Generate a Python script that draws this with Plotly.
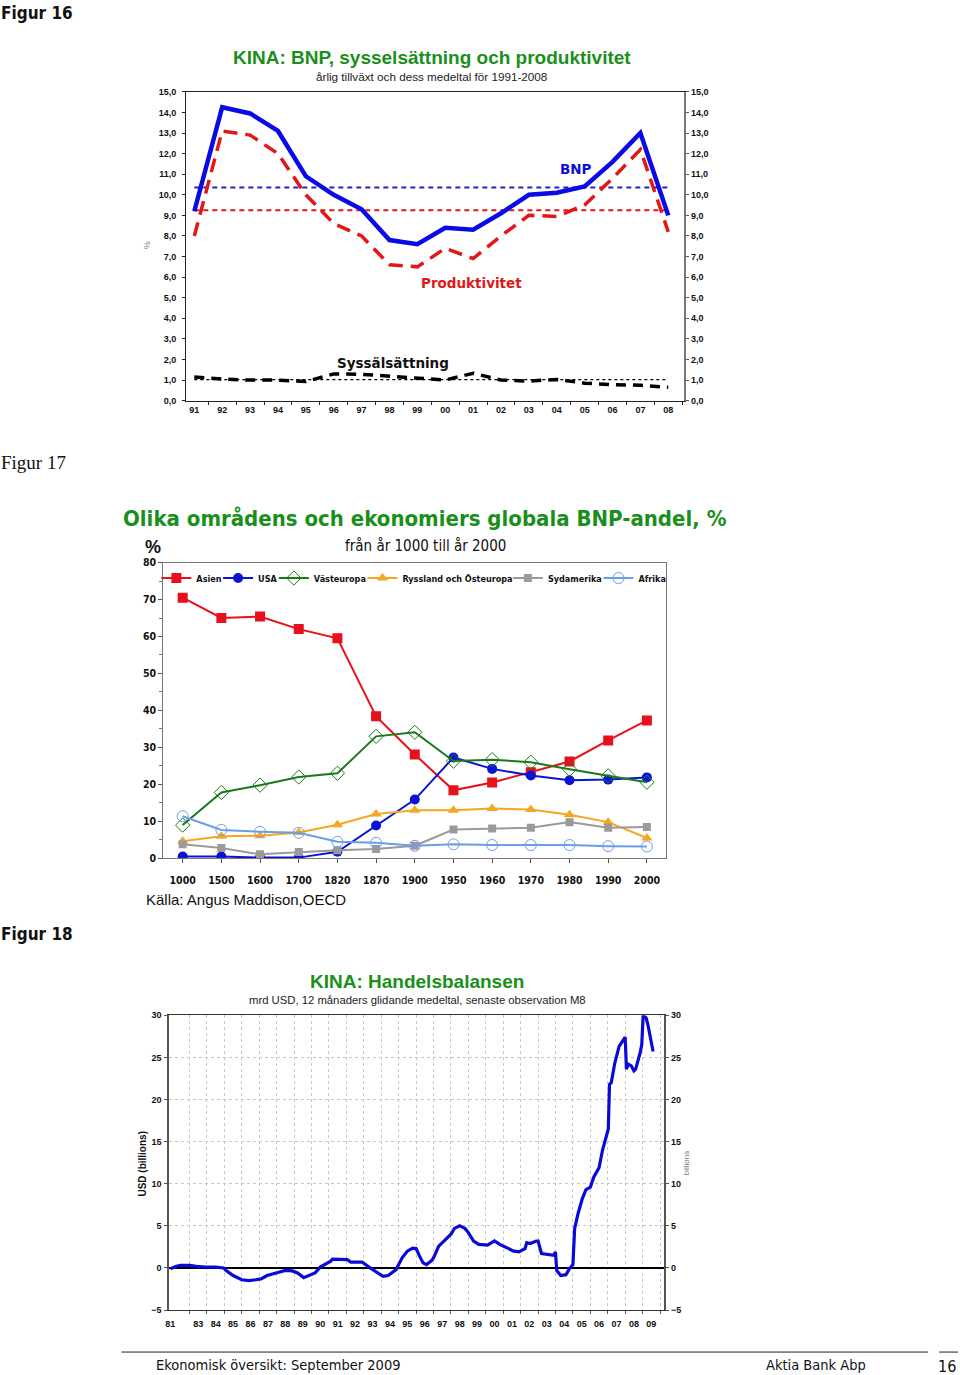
import plotly.graph_objects as go

W, H = 960, 1375

# The photographed page comes out slightly squeezed vertically; pre-correct positions.
Y_SCALE = 0.9919
Y_OFF = 5.1


def px(x):
    return x / W


def py(y):
    return 1 - ((y - Y_OFF) / Y_SCALE) / H


SANS = "Liberation Sans, Arial, sans-serif"
NARROW = "DejaVu Sans Condensed, Liberation Sans Narrow, Arial Narrow, sans-serif"
WIDE = "DejaVu Sans, Verdana, sans-serif"
SERIF = "Liberation Serif, DejaVu Serif, serif"
GREEN = "#1b8f1b"

# ---------------- Chart 1 data ----------------
years1 = ["91", "92", "93", "94", "95", "96", "97", "98", "99", "00",
          "01", "02", "03", "04", "05", "06", "07", "08"]
bnp = [9.2, 14.25, 13.95, 13.1, 10.9, 10.0, 9.3, 7.8, 7.6, 8.4,
       8.3, 9.1, 10.0, 10.1, 10.4, 11.6, 13.0, 9.0]
prod = [8.0, 13.1, 12.9, 12.0, 10.0, 8.6, 8.0, 6.6, 6.5, 7.4,
        6.9, 8.0, 9.0, 8.95, 9.5, 10.8, 12.2, 8.2]
syss = [1.15, 1.05, 1.0, 1.0, 0.93, 1.3, 1.28, 1.2, 1.08, 1.0,
        1.33, 1.0, 0.95, 1.03, 0.85, 0.77, 0.75, 0.65]
bnp_mean = 10.35
prod_mean = 9.25
syss_mean = 1.02

# ---------------- Chart 2 data ----------------
periods2 = ["1000", "1500", "1600", "1700", "1820", "1870", "1900",
            "1950", "1960", "1970", "1980", "1990", "2000"]
asien = [70.5, 65.0, 65.4, 62.0, 59.5, 38.4, 28.1, 18.4, 20.5, 23.3, 26.2, 31.9, 37.3]
usa = [0.5, 0.5, 0.2, 0.2, 1.8, 8.9, 15.9, 27.3, 24.2, 22.4, 21.1, 21.3, 21.9]
vasteuropa = [9.0, 17.8, 19.8, 22.0, 23.0, 33.0, 34.1, 26.3, 26.7, 26.0, 24.1, 22.3, 20.6]
ryssland = [4.6, 6.0, 6.1, 7.0, 9.1, 12.0, 13.0, 13.0, 13.5, 13.2, 11.8, 9.8, 5.5]
sydamerika = [3.8, 2.8, 1.1, 1.7, 2.2, 2.5, 3.4, 7.8, 8.1, 8.3, 9.8, 8.3, 8.5]
afrika = [11.4, 7.7, 7.2, 6.9, 4.5, 4.2, 3.4, 3.8, 3.6, 3.6, 3.6, 3.3, 3.2]

# ---------------- Chart 3 data ----------------
t3 = [1981.9, 1982.25, 1982.5, 1983.0, 1983.4, 1983.9, 1984.5, 1984.95, 1985.1, 1985.5,
      1986.0, 1986.4, 1986.8, 1987.1, 1987.45, 1988.1, 1988.5, 1988.9, 1989.2, 1989.55,
      1989.85, 1990.2, 1990.5, 1990.8, 1991.1, 1991.2, 1992.05, 1992.25, 1992.9, 1993.3,
      1993.7, 1994.1, 1994.4, 1994.85, 1995.2, 1995.5, 1995.8, 1996.0, 1996.2, 1996.4,
      1996.6, 1996.9, 1997.0, 1997.3, 1997.7, 1998.0, 1998.2, 1998.5, 1998.8, 1999.0,
      1999.3, 1999.6, 2000.1, 2000.5, 2000.8, 2001.6, 2001.9, 2002.25, 2002.35, 2002.55,
      2002.9, 2003.0, 2003.2, 2003.7, 2003.9, 2004.0, 2004.07, 2004.3, 2004.6, 2004.8,
      2005.0, 2005.1, 2005.3, 2005.55, 2005.75, 2006.0, 2006.06, 2006.2, 2006.5, 2006.7,
      2006.9, 2007.03, 2007.1, 2007.2, 2007.4, 2007.65, 2008.0, 2008.07, 2008.17, 2008.35,
      2008.5, 2008.6, 2008.85, 2008.95, 2009.03, 2009.2, 2009.3, 2009.45, 2009.6]
v3 = [-0.1, 0.2, 0.3, 0.3, 0.2, 0.1, 0.1, 0.0, -0.3, -0.9,
      -1.4, -1.5, -1.4, -1.3, -0.9, -0.5, -0.3, -0.35, -0.6, -1.15,
      -0.9, -0.6, 0.1, 0.4, 0.8, 1.05, 1.0, 0.7, 0.7, 0.1,
      -0.4, -1.0, -0.9, -0.2, 1.2, 2.0, 2.35, 2.3, 1.4, 0.6,
      0.4, 0.9, 1.2, 2.6, 3.4, 4.0, 4.7, 5.0, 4.7, 4.2,
      3.2, 2.8, 2.7, 3.2, 2.8, 2.0, 1.9, 2.3, 3.0, 2.9,
      3.2, 3.2, 1.7, 1.6, 1.5, 1.9, -0.3, -0.9, -0.8, -0.1,
      0.4, 4.7, 6.5, 8.3, 9.3, 9.6, 9.9, 10.8, 11.9, 14.0,
      15.5, 16.5, 21.8, 22.0, 24.3, 26.3, 27.4, 23.6, 24.2, 24.0,
      23.4, 23.6, 25.5, 26.5, 30.0, 29.7, 28.9, 27.5, 25.7]
labels3 = ["81", "83", "84", "85", "86", "87", "88", "89", "90", "91", "92", "93", "94",
           "95", "96", "97", "98", "99", "00", "01", "02", "03", "04", "05", "06", "07",
           "08", "09"]
tickpos3 = [1981.9] + [y + 0.5 for y in range(1983, 2010)]

fig = go.Figure()

# ---------- Chart 1 traces ----------
fig.add_trace(go.Scatter(x=years1, y=bnp, mode="lines", opacity=0,
                         xaxis="x", yaxis="y2", showlegend=False, hoverinfo="skip"))
fig.add_trace(go.Scatter(x=[years1[0], years1[-1]], y=[bnp_mean, bnp_mean], mode="lines",
                         line=dict(color="#2020c8", width=2, dash="5px,4px"),
                         xaxis="x", yaxis="y", showlegend=False, hoverinfo="skip"))
fig.add_trace(go.Scatter(x=[years1[0], years1[-1]], y=[prod_mean, prod_mean], mode="lines",
                         line=dict(color="#e01818", width=2, dash="5px,4px"),
                         xaxis="x", yaxis="y", showlegend=False, hoverinfo="skip"))
fig.add_trace(go.Scatter(x=[years1[0], years1[-1]], y=[syss_mean, syss_mean], mode="lines",
                         line=dict(color="#000000", width=1.2, dash="3px,3px"),
                         xaxis="x", yaxis="y", showlegend=False, hoverinfo="skip"))
fig.add_trace(go.Scatter(x=years1, y=prod, mode="lines",
                         line=dict(color="#e01818", width=3.5, dash="14px,8px"),
                         xaxis="x", yaxis="y", showlegend=False, name="Produktivitet"))
fig.add_trace(go.Scatter(x=years1, y=syss, mode="lines",
                         line=dict(color="#000000", width=3.5, dash="10px,7px"),
                         xaxis="x", yaxis="y", showlegend=False, name="Sysselsättning"))
fig.add_trace(go.Scatter(x=years1, y=bnp, mode="lines",
                         line=dict(color="#0a0ae6", width=4.5),
                         xaxis="x", yaxis="y", showlegend=False, name="BNP"))

# ---------- Chart 2 traces ----------
series2 = [
    ("Asien", asien, "#e8101a", dict(symbol="square", size=10, color="#e8101a")),
    ("USA", usa, "#0a14d2", dict(symbol="circle", size=10, color="#0a14d2")),
    ("Västeuropa", vasteuropa, "#1a7a1a",
     dict(symbol="diamond-open", size=11, color="#1a7a1a", line=dict(width=1))),
    ("Ryssland och Östeuropa", ryssland, "#f5a623",
     dict(symbol="triangle-up", size=10, color="#f5a623")),
    ("Sydamerika", sydamerika, "#9a9a9a", dict(symbol="square", size=8, color="#9a9a9a")),
    ("Afrika", afrika, "#6a9ee8",
     dict(symbol="circle-open", size=11, color="#6a9ee8", line=dict(width=1))),
]
legend_ids = ["legend", "legend2", "legend3", "legend4", "legend5", "legend6"]
legend_marker_px = [176, 238, 294, 383, 529, 620]
for (name, vals, col, mk), lid in zip(series2, legend_ids):
    fig.add_trace(go.Scatter(x=periods2, y=vals, mode="lines+markers", name=name,
                             line=dict(color=col, width=2), marker=mk,
                             xaxis="x2", yaxis="y3", showlegend=True, legend=lid))

# ---------- Chart 3 traces ----------
fig.add_trace(go.Scatter(x=t3, y=v3, mode="lines", line=dict(color="#0a0ad8", width=3.2),
                         xaxis="x3", yaxis="y4", showlegend=False, name="Handelsbalans"))
fig.add_trace(go.Scatter(x=t3, y=v3, mode="lines", opacity=0,
                         xaxis="x3", yaxis="y5", showlegend=False, hoverinfo="skip"))

tick1 = dict(family=SANS, size=9, color="#111", weight="bold")
tick2 = dict(family=NARROW, size=10.5, color="#111", weight="bold")

legends = {}
for lid, mpx in zip(legend_ids, legend_marker_px):
    legends[lid] = dict(x=px(mpx - 23), y=py(563), xanchor="left", yanchor="top",
                        orientation="h", bgcolor="rgba(0,0,0,0)", itemwidth=30,
                        font=dict(family=NARROW, size=9, color="#111", weight="bold"))

fig.update_layout(
    width=W, height=H, margin=dict(l=0, r=0, t=0, b=0),
    paper_bgcolor="white", plot_bgcolor="white",
    separators=", ",
    showlegend=True,
    **legends,
    # chart 1
    xaxis=dict(domain=[px(183), px(683)], anchor="y", type="category",
               categoryorder="array", categoryarray=years1,
               range=[-0.29, 17.57], showgrid=False, zeroline=False,
               showline=True, linecolor="#222", linewidth=1.2, mirror=True,
               ticks="outside", ticklen=3, tickson="boundaries", tickcolor="#222",
               tickfont=tick1),
    yaxis=dict(domain=[py(400), py(91)], anchor="x", range=[0, 15], dtick=1,
               tickformat=".1f", showgrid=False, zeroline=False,
               showline=True, linecolor="#222", linewidth=1.2,
               ticks="outside", ticklen=3, tickcolor="#222", tickfont=tick1,
               ticklabelstandoff=4),
    yaxis2=dict(overlaying="y", anchor="x", side="right", range=[0, 15], dtick=1,
                tickformat=".1f", showgrid=False, zeroline=False,
                showline=True, linecolor="#777", linewidth=2,
                ticks="outside", ticklen=3, tickcolor="#555", tickfont=tick1),
    # chart 2
    xaxis2=dict(domain=[px(160), px(665)], anchor="y3", type="category",
                categoryorder="array", categoryarray=periods2,
                range=[-0.5, 12.5], showgrid=False, zeroline=False,
                showline=True, linecolor="#777", linewidth=1.2, mirror=True,
                ticks="outside", ticklen=4, tickcolor="#555", tickfont=tick2,
                ticklabelstandoff=8),
    yaxis3=dict(domain=[py(858), py(562)], anchor="x2", range=[0, 80], dtick=10,
                showgrid=False, zeroline=False,
                showline=True, linecolor="#777", linewidth=1.2, mirror=True,
                ticks="outside", ticklen=4, tickcolor="#555", tickfont=tick2,
                minor=dict(dtick=5, ticks="outside", ticklen=3, tickcolor="#777")),
    # chart 3
    xaxis3=dict(domain=[px(166), px(663)], anchor="y4", range=[1981.84, 2010.24],
                tickmode="array", tickvals=tickpos3, ticktext=labels3,
                showgrid=False, zeroline=False, ticks="",
                showline=True, linecolor="#333", linewidth=1.2, mirror=True,
                tickfont=tick1, ticklabelstandoff=5,
                minor=dict(tickvals=list(range(1983, 2011)), showgrid=True,
                           griddash="dot", gridcolor="#c8c8c8", gridwidth=1,
                           ticks="outside", ticklen=3, tickcolor="#555")),
    yaxis4=dict(domain=[py(1310), py(1015)], anchor="x3", range=[-5, 30], dtick=5,
                showgrid=True, griddash="dot", gridcolor="#c8c8c8",
                zeroline=True, zerolinecolor="#000", zerolinewidth=1.5,
                showline=True, linecolor="#555", linewidth=2,
                ticks="outside", ticklen=3, tickcolor="#555", tickfont=tick1,
                ticklabelstandoff=1),
    yaxis5=dict(overlaying="y4", anchor="x3", side="right", range=[-5, 30], dtick=5,
                showgrid=False, zeroline=False,
                showline=True, linecolor="#555", linewidth=2,
                ticks="outside", ticklen=3, tickcolor="#555", tickfont=tick1),
)

ann = []


def A(text, x, y, size, family=SANS, color="#000", weight="normal", xanchor="center",
      textangle=0, xref="paper", yref="paper"):
    ann.append(dict(text=text, x=x, y=y, xref=xref, yref=yref, xanchor=xanchor,
                    yanchor="middle", showarrow=False, textangle=textangle,
                    font=dict(family=family, size=size, color=color, weight=weight)))


# page labels (left-anchored texts get a small offset for the annotation padding)
A("Figur 16", px(-5), py(12), 17, NARROW, "#111", "bold", "left")
A("Figur 17", px(-5), py(462), 19, SERIF, "#111", "normal", "left")
A("Figur 18", px(-5), py(934), 17, NARROW, "#111", "bold", "left")

# chart 1 texts
A("KINA: BNP, sysselsättning och produktivitet", px(430), py(57), 19, SANS, GREEN, "bold")
A("årlig tillväxt och dess medeltal för 1991-2008", px(429), py(76), 11.7, SANS, "#222")
A("%", px(143), py(244), 9, SANS, "#777", textangle=-90)
A("BNP", 13.7, 11.25, 13.5, WIDE, "#1010d0", "bold", xref="x", yref="y")
A("Produktivitet", 9.93, 5.73, 13.5, WIDE, "#e01818", "bold", xref="x", yref="y")
A("Syssälsättning", 7.14, 1.85, 13.5, WIDE, "#111", "bold", xref="x", yref="y")

# chart 2 texts
A("Olika områdens och ekonomiers globala BNP-andel, %", px(423), py(518), 22, NARROW,
  GREEN, "bold")
A("från år 1000 till år 2000", px(423), py(545), 15, NARROW, "#111")
A("%", px(150), py(546), 18, SANS, "#111", "bold")
A("Källa: Angus Maddison,OECD", px(141), py(899), 15, SANS, "#111", "normal", "left")

# chart 3 texts
A("KINA: Handelsbalansen", px(415), py(981), 19, SANS, GREEN, "bold")
A("mrd USD, 12 månaders glidande medeltal, senaste observation M8", px(415), py(1000), 11.3,
  SANS, "#222")
A("USD (billions)", px(139), py(1163), 10, SANS, "#111", "bold", textangle=-90)
A("billions", px(685), py(1163), 8, SANS, "#777", textangle=-90)

# footer
A("Ekonomisk översikt: September 2009", px(151), py(1365), 14.5, NARROW, "#111", "normal",
  "left")
A("Aktia Bank Abp", px(763), py(1365), 14.5, NARROW, "#111", "normal", "left")
A("16", px(958), py(1366), 16, NARROW, "#111", "normal", "right")

fig.update_layout(annotations=ann)

fig.update_layout(shapes=[
    dict(type="line", xref="paper", yref="paper", x0=px(118), x1=px(928), y0=py(1352),
         y1=py(1352), line=dict(color="#222", width=1)),
    dict(type="line", xref="paper", yref="paper", x0=px(939), x1=px(958), y0=py(1352),
         y1=py(1352), line=dict(color="#222", width=1)),
])

fig.write_html("out.html", config={"displayModeBar": False},
               post_script="document.body.style.margin='0';"
                           "document.body.style.overflow='hidden';")
